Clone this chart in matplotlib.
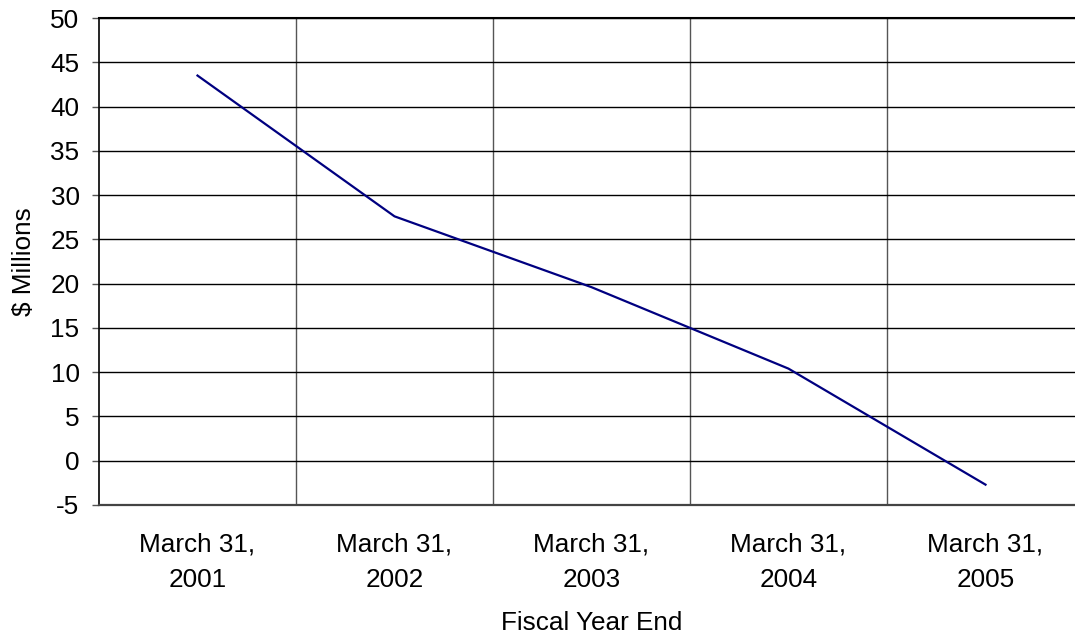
import matplotlib
matplotlib.use("Agg")
import matplotlib.pyplot as plt
from matplotlib.ticker import FixedLocator

plt.rcParams['font.family'] = ['Liberation Sans', 'DejaVu Sans']

categories = ["March 31,\n2001", "March 31,\n2002", "March 31,\n2003",
              "March 31,\n2004", "March 31,\n2005"]
values = [43.5, 27.6, 19.6, 10.4, -2.7]
y_ticks = list(range(-5, 51, 5))

FS = 18.8
W, H = 1075, 636
fig = plt.figure(figsize=(W / 100, H / 100), dpi=100)
left, right, top, bottom = 99, 1084, 18, 505
ax = fig.add_axes([left / W, 1 - bottom / H, (right - left) / W, (bottom - top) / H])

x = list(range(len(categories)))
ax.plot(x, values, color="#000080", linewidth=1.6, zorder=3)

ax.set_xlim(-0.5, len(categories) - 0.5)
ax.set_ylim(-5, 50)
ax.set_yticks(y_ticks)
ax.set_yticklabels([str(v) for v in y_ticks], fontsize=FS)
ax.set_xticks(x)
ax.set_xticklabels(categories, fontsize=FS, linespacing=1.57)
ax.xaxis.set_minor_locator(FixedLocator([i + 0.5 for i in range(len(categories) - 1)]))

ax.grid(axis="y", which="major", color="black", linewidth=1)
ax.grid(axis="x", which="minor", color="#555555", linewidth=1)
ax.tick_params(axis="x", which="both", length=0, pad=20)
ax.tick_params(axis="y", length=5, width=1, color="#555555", pad=9)

ax.spines["right"].set_visible(False)
ax.spines["top"].set_color("black")
ax.spines["top"].set_linewidth(1.5)
ax.spines["left"].set_color("black")
ax.spines["left"].set_linewidth(1.2)
ax.spines["bottom"].set_color("#444444")
ax.spines["bottom"].set_linewidth(1.6)

ax.set_xlabel("Fiscal Year End", fontsize=FS, labelpad=14)
ax.set_ylabel("$ Millions", fontsize=FS, labelpad=10)

fig.savefig("out.png", dpi=100)
